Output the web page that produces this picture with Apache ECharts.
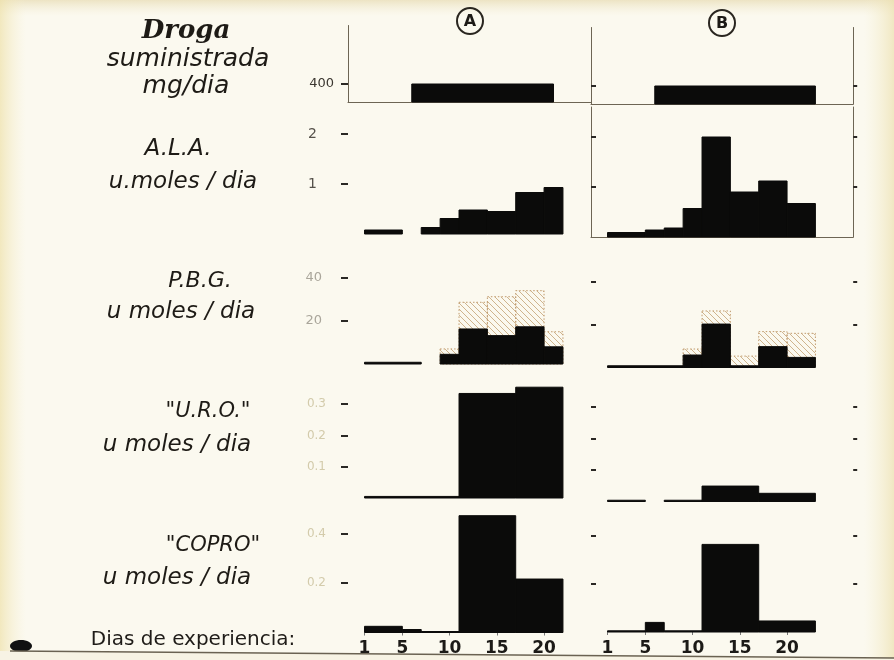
<!DOCTYPE html>
<html>
<head>
<meta charset="utf-8">
<script src="https://cdn.jsdelivr.net/npm/echarts@6/dist/echarts.min.js"></script>
<style>
  html, body { margin: 0; padding: 0; background: #fbf9ef; }
  #chart { width: 894px; height: 660px; }
</style>
</head>
<body>
<div id="chart"></div>
<script>
// ---- Tick values -------------------------------------------------------
const dayTicks   = [1, 5, 10, 15, 20];
const drugTicks  = [400];
const alaTicks   = [1, 2];
const pbgTicks   = [20, 40];
const uroTicks   = [0.1, 0.2, 0.3];
const coproTicks = [0.2, 0.4];

// ---- Series: each entry is [first day, last day, value per day] ----------
// Drug given, mg/day
const drugA = [[6, 21, 400]];
const drugB = [[6, 23, 400]];

// A.L.A., µmoles/day
const alaA = [[1, 5, 0.08], [7, 9, 0.13], [9, 11, 0.31], [11, 14, 0.48],
              [14, 17, 0.45], [17, 20, 0.83], [20, 22, 0.93]];
const alaB = [[1, 5, 0.09], [5, 7, 0.14], [7, 9, 0.18], [9, 11, 0.57],
              [11, 14, 2.0], [14, 17, 0.9], [17, 20, 1.12], [20, 23, 0.67]];

// P.B.G., µmoles/day: total (hatched) and solid part
const pbgTotalA = [[9, 11, 7], [11, 14, 28.7], [14, 17, 31.3], [17, 20, 34.1], [20, 22, 15]];
const pbgSolidA = [[1, 7, 0.8], [9, 11, 4.5], [11, 14, 16.3], [14, 17, 13.2], [17, 20, 17.3], [20, 22, 8]];
const pbgTotalB = [[9, 11, 8.6], [11, 14, 26.3], [14, 17, 5.3], [17, 20, 16.7], [20, 23, 15.9]];
const pbgSolidB = [[1, 9, 0.8], [9, 11, 5.8], [11, 14, 20.2], [14, 17, 0.8], [17, 20, 9.7], [20, 23, 4.7]];

// "U.R.O.", µmoles/day
const uroA = [[1, 11, 0.005], [11, 17, 0.334], [17, 22, 0.354]];
const uroB = [[1, 5, 0.004], [7, 11, 0.004], [11, 17, 0.049], [17, 23, 0.026]];

// "COPRO", µmoles/day
const coproA = [[1, 5, 0.025], [5, 7, 0.012], [7, 11, 0.004], [11, 17, 0.472], [17, 22, 0.216]];
const coproB = [[1, 5, 0.005], [5, 7, 0.04], [7, 11, 0.005], [11, 17, 0.365], [17, 23, 0.046]];

// ---- Row captions -----------------------------------------------------------
const captions = [
  { text: 'Droga',         x: 186, y: 31,  font: 'italic bold 26px "DejaVu Serif"' },
  { text: 'suministrada',  x: 188, y: 59,  font: 'italic 25px "DejaVu Sans"' },
  { text: 'mg/dia',        x: 186, y: 86,  font: 'italic 25px "DejaVu Sans"' },
  { text: 'A.L.A.',        x: 178, y: 149, font: 'italic 23px "DejaVu Sans"' },
  { text: 'u.moles / dia', x: 183, y: 182, font: 'italic 23px "DejaVu Sans"' },
  { text: 'P.B.G.',        x: 200, y: 281, font: 'italic 22px "DejaVu Sans"' },
  { text: 'u moles / dia', x: 181, y: 312, font: 'italic 23px "DejaVu Sans"' },
  { text: '"U.R.O."',      x: 208, y: 412, font: 'italic 21px "DejaVu Sans"' },
  { text: 'u moles / dia', x: 177, y: 445, font: 'italic 23px "DejaVu Sans"' },
  { text: '"COPRO"',       x: 213, y: 546, font: 'italic 21px "DejaVu Sans"' },
  { text: 'u moles / dia', x: 177, y: 578, font: 'italic 23px "DejaVu Sans"' }
];

// ---- Hatch fill for the P.B.G. totals -------------------------------------
const hatchCanvas = document.createElement('canvas');
hatchCanvas.width = 6; hatchCanvas.height = 6;
(function () {
  const g = hatchCanvas.getContext('2d');
  g.strokeStyle = 'rgba(200,168,125,0.85)';
  g.lineWidth = 1;
  g.beginPath();
  g.moveTo(-1, -1); g.lineTo(7, 7);
  g.stroke();
})();
const hatchFill = { image: hatchCanvas, repeat: 'repeat' };

// ---- Panel layout -----------------------------------------------------------
const cols = {
  A: { left: 348, width: 243.3, xMin: -0.75, xMax: 25 },
  B: { left: 591, width: 262.2, xMin: -0.75, xMax: 27 }
};
const lineColor = '#6d6554';

const rows = [
  { key: 'drug', ticks: drugTicks, yMax: 1700, frame: true,
    label: { color: '#3b3730', fontSize: 13, margin: 14 },
    A: { top: 25.5, base: 102, layers: [['solid', drugA]] },
    B: { top: 27.5, base: 104, layers: [['solid', drugB]] } },
  { key: 'ala', ticks: alaTicks, yMax: 2.6, frameB: true,
    label: { color: '#55514a', fontSize: 14, margin: 31 },
    A: { top: 104, base: 234, layers: [['solid', alaA]] },
    B: { top: 107, base: 237, layers: [['solid', alaB]] } },
  { key: 'pbg', ticks: pbgTicks, yMax: 50,
    label: { color: '#aaa69b', fontSize: 13, margin: 26 },
    A: { top: 256.5, base: 364, layers: [['hatch', pbgTotalA], ['solid', pbgSolidA]] },
    B: { top: 260, base: 367.5, layers: [['hatch', pbgTotalB], ['solid', pbgSolidB]] } },
  { key: 'uro', ticks: uroTicks, yMax: 0.4,
    label: { color: '#d3cbab', fontSize: 12, margin: 22 },
    A: { top: 372.8, base: 498, layers: [['solid', uroA]] },
    B: { top: 375.5, base: 501.5, layers: [['solid', uroB]] } },
  { key: 'copro', ticks: coproTicks, yMax: 0.5, days: true,
    label: { color: '#d3cbab', fontSize: 12, margin: 22 },
    A: { top: 508.75, base: 632.5, layers: [['solid', coproA]] },
    B: { top: 512, base: 632, layers: [['solid', coproB]] } }
];

function renderBlock(kind) {
  return function (params, api) {
    const p0 = api.coord([api.value(0), 0]);
    const p1 = api.coord([api.value(1), api.value(2)]);
    const shape = { x: p0[0], y: p1[1], width: p1[0] - p0[0], height: p0[1] - p1[1] };
    if (kind === 'hatch') {
      return { type: 'rect', shape: shape,
        style: { fill: hatchFill, stroke: '#c09a6c', lineWidth: 1, lineDash: [1.5, 2] } };
    }
    // a thin stroke of the same ink closes the seams between adjacent blocks
    return { type: 'rect', shape: shape,
      style: { fill: '#0b0b0a', stroke: '#0b0b0a', lineWidth: 1 } };
  };
}

const grid = [], xAxis = [], yAxis = [], series = [];
const rightAxes = [];

rows.forEach(function (row) {
  ['A', 'B'].forEach(function (side) {
    const c = cols[side], p = row[side];
    const gi = grid.length;
    grid.push({ left: c.left, width: c.width, top: p.top, height: p.base - p.top,
                outerBoundsMode: 'none', containLabel: false });

    const showBase = row.frame || (row.frameB && side === 'B');
    xAxis.push({
      type: 'value', gridIndex: gi, min: c.xMin, max: c.xMax,
      axisLine: { show: !!showBase, onZero: false, lineStyle: { color: lineColor, width: 1 } },
      axisTick: { show: !!row.days, customValues: dayTicks, length: 3,
                  lineStyle: { color: '#777', width: 1 } },
      axisLabel: { show: !!row.days, customValues: dayTicks, margin: 8,
                   fontFamily: 'DejaVu Sans', fontWeight: 'bold', fontSize: 17, color: '#1c1a17' },
      splitLine: { show: false }
    });

    const showLeftLine = row.frame || (row.frameB && side === 'B');
    yAxis.push({
      type: 'value', gridIndex: gi, min: 0, max: row.yMax, position: 'left',
      axisLine: { show: !!showLeftLine, onZero: false, lineStyle: { color: lineColor, width: 1 } },
      axisTick: { show: true, customValues: row.ticks, length: side === 'A' ? 7 : 5,
                  inside: side === 'B', lineStyle: { color: '#2a2824', width: 2 } },
      axisLabel: { show: side === 'A', customValues: row.ticks, margin: row.label.margin,
                   color: row.label.color, fontSize: row.label.fontSize,
                   fontFamily: 'DejaVu Sans' },
      splitLine: { show: false }
    });

    if (side === 'B') {
      rightAxes.push({
        type: 'value', gridIndex: gi, min: 0, max: row.yMax, position: 'right',
        axisLine: { show: !!(row.frame || row.frameB), onZero: false,
                    lineStyle: { color: lineColor, width: 1 } },
        axisTick: { show: true, customValues: row.ticks, length: 4,
                    lineStyle: { color: '#2a2824', width: 2 } },
        axisLabel: { show: false },
        splitLine: { show: false }
      });
    }

    p.layers.forEach(function (layer) {
      series.push({
        type: 'custom', xAxisIndex: gi, yAxisIndex: gi,
        renderItem: renderBlock(layer[0]),
        encode: { x: [0, 1], y: 2 },
        data: layer[1], silent: true
      });
    });
  });
});
rightAxes.forEach(function (a) { yAxis.push(a); });

const graphic = [
  // paper shading along the edges
  { type: 'rect', left: 0, top: 0, z: -10, shape: { width: 894, height: 16 },
    style: { fill: new echarts.graphic.LinearGradient(0, 0, 0, 1, [
      { offset: 0, color: 'rgba(225,210,160,0.55)' }, { offset: 1, color: 'rgba(240,232,200,0)' }]) } },
  { type: 'rect', left: 0, top: 0, z: -10, shape: { width: 26, height: 660 },
    style: { fill: new echarts.graphic.LinearGradient(0, 0, 1, 0, [
      { offset: 0, color: 'rgba(238,225,170,0.7)' }, { offset: 1, color: 'rgba(245,238,205,0)' }]) } },
  { type: 'rect', left: 864, top: 0, z: -10, shape: { width: 30, height: 660 },
    style: { fill: new echarts.graphic.LinearGradient(0, 0, 1, 0, [
      { offset: 0, color: 'rgba(245,238,205,0)' }, { offset: 1, color: 'rgba(236,224,175,0.7)' }]) } },
  // circled panel letters
  { type: 'circle', shape: { cx: 470, cy: 21, r: 13 }, z: 5,
    style: { fill: 'none', stroke: '#2a2620', lineWidth: 2 } },
  { type: 'text', x: 470, y: 22, z: 6,
    style: { text: 'A', font: 'bold 16px "DejaVu Sans"', fill: '#1d1a16',
             textAlign: 'center', textVerticalAlign: 'middle' } },
  { type: 'circle', shape: { cx: 722, cy: 23, r: 13 }, z: 5,
    style: { fill: 'none', stroke: '#2a2620', lineWidth: 2 } },
  { type: 'text', x: 722, y: 24, z: 6,
    style: { text: 'B', font: 'bold 16px "DejaVu Sans"', fill: '#1d1a16',
             textAlign: 'center', textVerticalAlign: 'middle' } },
  // x axis caption and its rule
  { type: 'text', x: 193, y: 640, z: 6,
    style: { text: 'Dias de experiencia:', font: '20px "DejaVu Sans"', fill: '#1f1c18',
             textAlign: 'center', textVerticalAlign: 'middle' } },
  { type: 'ellipse', shape: { cx: 21, cy: 646, rx: 11, ry: 6 }, z: 6,
    style: { fill: '#111' } },
  { type: 'polygon', z: 20, shape: { points: [[0, 651], [894, 658], [894, 660], [0, 660]] },
    style: { fill: '#f7f3e4' } },
  { type: 'line', z: 21, shape: { x1: 10, y1: 651, x2: 894, y2: 658 },
    style: { stroke: '#6a6252', lineWidth: 1.4 } }
];
captions.forEach(function (c) {
  graphic.push({ type: 'text', x: c.x, y: c.y, z: 6,
    style: { text: c.text, font: c.font, fill: '#1e1b16',
             textAlign: 'center', textVerticalAlign: 'middle' } });
});

const chart = echarts.init(document.getElementById('chart'), null, { renderer: 'canvas' });
chart.setOption({
  backgroundColor: '#fbf9ef',
  animation: false,
  grid: grid,
  xAxis: xAxis,
  yAxis: yAxis,
  series: series,
  graphic: graphic
});
</script>
</body>
</html>
